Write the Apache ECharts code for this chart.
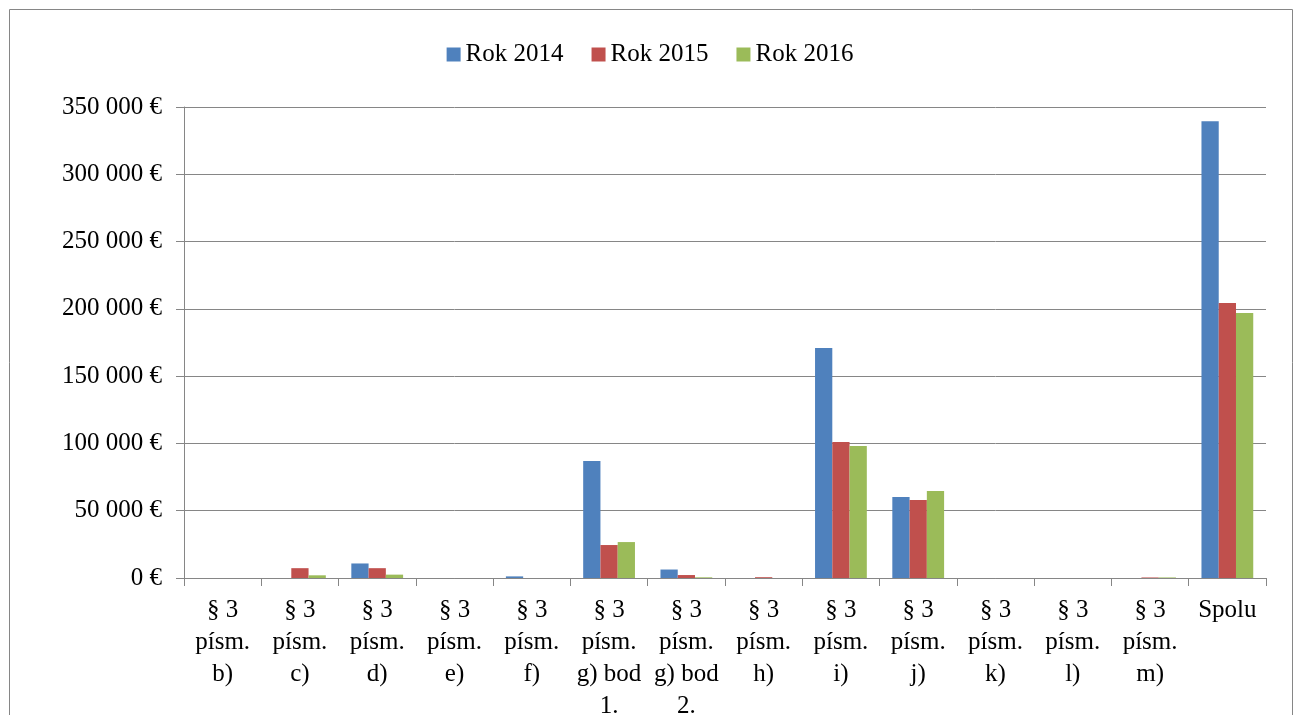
<!DOCTYPE html>
<html>
<head>
<meta charset="utf-8">
<script src="https://cdn.jsdelivr.net/npm/echarts@6/dist/echarts.min.js"></script>
<style>
  html, body { margin: 0; padding: 0; background: #fff; }
  #chart { width: 1300px; height: 715px; }
</style>
</head>
<body>
<div id="chart"></div>
<script>
// categories (paragraph letters of § 3) and the total
var categories = [
  '§ 3\npísm.\nb)', '§ 3\npísm.\nc)', '§ 3\npísm.\nd)', '§ 3\npísm.\ne)',
  '§ 3\npísm.\nf)', '§ 3\npísm.\ng) bod\n1.', '§ 3\npísm.\ng) bod\n2.',
  '§ 3\npísm.\nh)', '§ 3\npísm.\ni)', '§ 3\npísm.\nj)', '§ 3\npísm.\nk)',
  '§ 3\npísm.\nl)', '§ 3\npísm.\nm)', 'Spolu'
];
var seriesNames = ['Rok 2014', 'Rok 2015', 'Rok 2016'];
var rok2014 = [0, 0, 10800, 0, 1200, 86900, 6300, 0, 170900, 60200, 0, 0, 0, 339500];
var rok2015 = [0, 7300, 7300, 0, 0, 24500, 2200, 600, 101000, 58000, 0, 0, 400, 204300];
var rok2016 = [0, 2000, 2500, 0, 0, 26700, 500, 0, 98000, 64600, 0, 0, 400, 196900];
var yTicks = [0, 50000, 100000, 150000, 200000, 250000, 300000, 350000];

var colors = ['#4F81BD', '#C0504D', '#9BBB59'];
var font = 'Liberation Serif';
var gray = '#868686';

function euro(v) {
  return String(v).replace(/\B(?=(\d{3})+(?!\d))/g, ' ') + ' €';
}

var chart = echarts.init(document.getElementById('chart'));
chart.setOption({
  animation: false,
  color: colors,
  textStyle: { fontFamily: font },
  graphic: [{
    type: 'rect',
    shape: { x: 9.5, y: 9.5, width: 1283, height: 800 },
    style: { fill: 'none', stroke: gray, lineWidth: 1 },
    silent: true
  }],
  legend: {
    data: seriesNames,
    top: 37,
    left: 'center',
    itemWidth: 14,
    itemHeight: 14,
    itemGap: 28,
    icon: 'rect',
    textStyle: { fontFamily: font, fontSize: 25, color: '#000' }
  },
  grid: { left: 184, right: 34, top: 107, bottom: 137, containLabel: false, outerBoundsMode: 'none' },
  xAxis: {
    type: 'category',
    data: categories,
    axisLine: { lineStyle: { color: gray } },
    axisTick: { show: true, length: 8, alignWithLabel: false, lineStyle: { color: gray } },
    axisLabel: {
      interval: 0,
      margin: 16,
      fontFamily: font,
      fontSize: 25,
      lineHeight: 32,
      color: '#000',
      verticalAlign: 'top'
    }
  },
  yAxis: {
    type: 'value',
    min: yTicks[0],
    max: yTicks[yTicks.length - 1],
    interval: yTicks[1] - yTicks[0],
    axisLine: { show: true, lineStyle: { color: gray } },
    axisTick: { show: true, length: 8, lineStyle: { color: gray } },
    splitLine: { lineStyle: { color: gray, width: 1 } },
    axisLabel: {
      margin: 22,
      fontFamily: font,
      fontSize: 25,
      color: '#000',
      formatter: euro
    }
  },
  series: [
    { name: seriesNames[0], type: 'bar', data: rok2014, barGap: '0%', barCategoryGap: '33%' },
    { name: seriesNames[1], type: 'bar', data: rok2015, barGap: '0%', barCategoryGap: '33%' },
    { name: seriesNames[2], type: 'bar', data: rok2016, barGap: '0%', barCategoryGap: '33%' }
  ]
});
</script>
</body>
</html>
